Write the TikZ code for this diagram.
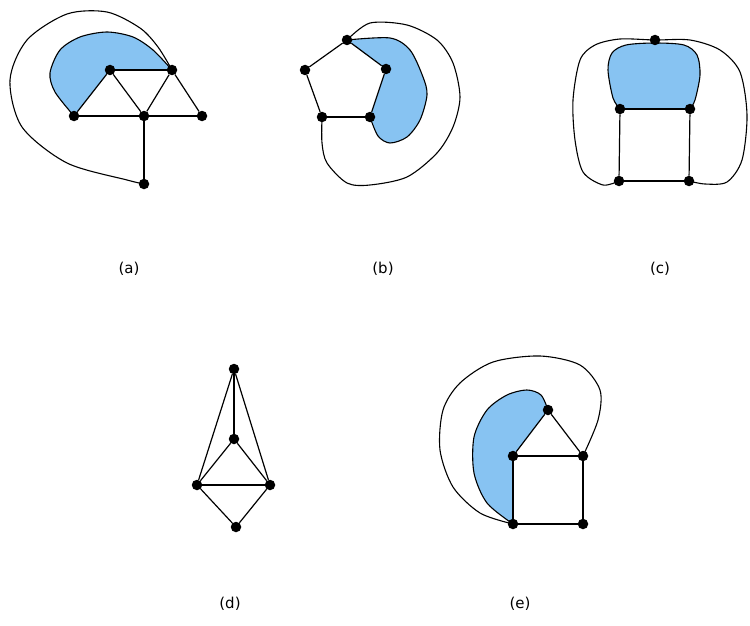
\documentclass[tikz,border=0pt]{standalone}
\usepackage{fontspec}
\setmainfont{DejaVu Sans}
\usetikzlibrary{backgrounds}
\definecolor{faceBlue}{RGB}{135,195,242}
\definecolor{ink}{RGB}{0,0,0}

\tikzset{
  vtx/.style={circle,fill=ink,inner sep=0pt,minimum size=10.5pt},
  link/.style={ink,line width=1.2pt},
  wrap/.style={ink,line width=1.1pt},
  caption/.style={font=\fontsize{15}{17}\selectfont}
}

\begin{document}
\begin{tikzpicture}[x=1pt,y=-1pt]
  \useasboundingbox (0,0) rectangle (750,626);

  % (a)
  \node[vtx] (a1) at (110,70) {};
  \node[vtx] (a2) at (172,70) {};
  \node[vtx] (a3) at (74,116) {};
  \node[vtx] (a4) at (144,116) {};
  \node[vtx] (a5) at (202,116) {};
  \node[vtx] (a6) at (144,184) {};
  \begin{scope}[on background layer]
    \fill[faceBlue] plot[smooth] coordinates {(a3.center) (55,92) (50,73) (60,50)
      (80,37) (107,32) (133,37) (153,50) (a2.center)} -- (a1.center) -- cycle;
  \end{scope}
  \draw[wrap] plot[smooth] coordinates {(a3.center) (55,92) (50,73) (60,50)
    (80,37) (107,32) (133,37) (153,50) (a2.center)};
  \draw[wrap] plot[smooth] coordinates {(a6.center) (127,180) (67,163) (22,127)
    (10,80) (27,40) (67,14) (107,12) (140,28) (158,47) (a2.center)};
  \draw[link] (a1) -- (a2);
  \draw[link] (a1) -- (a3);
  \draw[link] (a1) -- (a4);
  \draw[link] (a2) -- (a4);
  \draw[link] (a2) -- (a5);
  \draw[link] (a3) -- (a4);
  \draw[link] (a4) -- (a5);
  \draw[link] (a4) -- (a6);
  \node[caption] (capA) at (129,269) {(a)};

  % (b)
  \node[vtx] (b1) at (347,40) {};
  \node[vtx] (b2) at (305,70) {};
  \node[vtx] (b3) at (386,69) {};
  \node[vtx] (b4) at (322,117) {};
  \node[vtx] (b5) at (370,117) {};
  \begin{scope}[on background layer]
    \fill[faceBlue] plot[smooth] coordinates {(b1.center) (390,38) (410,50)
      (423,77) (427,95) (420,120) (407,137) (390,143) (378,136) (b5.center)}
      -- (b3.center) -- cycle;
  \end{scope}
  \draw[wrap] plot[smooth] coordinates {(b1.center) (390,38) (410,50)
    (423,77) (427,95) (420,120) (407,137) (390,143) (378,136) (b5.center)};
  \draw[wrap] plot[smooth] coordinates {(b1.center) (370,23) (407,25) (437,40)
    (453,63) (460,97) (453,127) (437,153) (407,177) (370,185) (347,183)
    (327,163) (322,143) (b4.center)};
  \draw[link] (b1) -- (b2);
  \draw[link] (b1) -- (b3);
  \draw[link] (b2) -- (b4);
  \draw[link] (b3) -- (b5);
  \draw[link] (b4) -- (b5);
  \node[caption] (capB) at (383,269) {(b)};

  % (c)
  \node[vtx] (c1) at (655,40) {};
  \node[vtx] (c2) at (620,109) {};
  \node[vtx] (c3) at (690,109) {};
  \node[vtx] (c4) at (619,181) {};
  \node[vtx] (c5) at (689,181) {};
  \begin{scope}[on background layer]
    \fill[faceBlue] plot[smooth] coordinates {(c2.center) (613,98) (608,70)
      (612,53) (626,45) (655,43) (684,45) (697,55) (700,75) (695,100)
      (c3.center)} -- cycle;
  \end{scope}
  \draw[wrap] plot[smooth] coordinates {(c2.center) (613,98) (608,70)
    (612,53) (626,45) (655,43) (684,45) (697,55) (700,75) (695,100)
    (c3.center)};
  \draw[wrap] plot[smooth] coordinates {(c4.center) (603,185) (583,172)
    (575,140) (573,100) (580,60) (595,45) (620,39) (c1.center) (690,40)
    (720,50) (740,72) (747,115) (742,160) (727,182) (705,184) (c5.center)};
  \draw[link] (c2) -- (c3);
  \draw[link] (c2) -- (c4);
  \draw[link] (c3) -- (c5);
  \draw[link] (c4) -- (c5);
  \node[caption] (capC) at (660,269) {(c)};

  % (d)
  \node[vtx] (d1) at (234,369) {};
  \node[vtx] (d2) at (234,439) {};
  \node[vtx] (d3) at (197,485) {};
  \node[vtx] (d4) at (270,485) {};
  \node[vtx] (d5) at (236,527) {};
  \draw[link] (d1) -- (d2);
  \draw[link] (d1) -- (d3);
  \draw[link] (d1) -- (d4);
  \draw[link] (d2) -- (d3);
  \draw[link] (d2) -- (d4);
  \draw[link] (d3) -- (d4);
  \draw[link] (d3) -- (d5);
  \draw[link] (d4) -- (d5);
  \node[caption] (capD) at (230,604) {(d)};

  % (e)
  \node[vtx] (e1) at (548,410) {};
  \node[vtx] (e2) at (513,456) {};
  \node[vtx] (e3) at (583,456) {};
  \node[vtx] (e4) at (513,524) {};
  \node[vtx] (e5) at (583,524) {};
  \begin{scope}[on background layer]
    \fill[faceBlue] plot[smooth] coordinates {(e4.center) (487,503) (474,473)
      (474,437) (487,410) (507,395) (527,390) (541,395) (e1.center)}
      -- (e2.center) -- cycle;
  \end{scope}
  \draw[wrap] plot[smooth] coordinates {(e4.center) (487,503) (474,473)
    (474,437) (487,410) (507,395) (527,390) (541,395) (e1.center)};
  \draw[wrap] plot[smooth] coordinates {(e4.center) (480,513) (453,487)
    (440,450) (443,410) (460,383) (493,362) (540,356) (580,365) (600,390)
    (598,420) (e3.center)};
  \draw[link] (e1) -- (e2);
  \draw[link] (e1) -- (e3);
  \draw[link] (e2) -- (e3);
  \draw[link] (e2) -- (e4);
  \draw[link] (e3) -- (e5);
  \draw[link] (e4) -- (e5);
  \node[caption] (capE) at (520,604) {(e)};
\end{tikzpicture}
\end{document}
